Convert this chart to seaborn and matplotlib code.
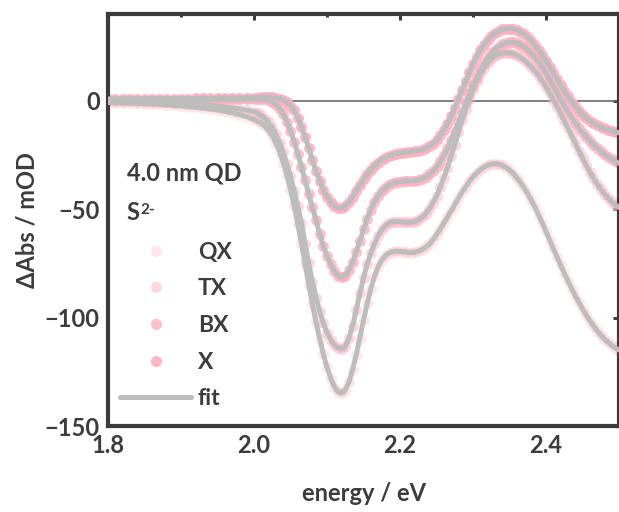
import numpy as np
import matplotlib
matplotlib.use("Agg")
import matplotlib.pyplot as plt
import seaborn as sns
from matplotlib.lines import Line2D
from matplotlib.ticker import MultipleLocator

# Probe energies (eV): 10 meV steps below 2.0 eV, 5 meV steps above
energy = np.concatenate([
    np.round(np.arange(1.80, 1.995, 0.01), 3),
    np.round(np.arange(2.000, 2.5001, 0.005), 3),
])

# Differential absorption (mOD) for the four spectra
qx = [
    -0.8, -0.9, -1.0, -1.1, -1.2, -1.3, -1.5, -1.7, -1.9, -2.1,
    -2.4, -2.7, -3.0, -3.4, -3.8, -4.3, -4.9, -5.6, -6.4, -7.4,
    -8.6, -9.4, -10.4, -11.8, -13.7, -16.2, -19.5, -23.5, -28.5, -34.3,
    -41.0, -48.6, -57.0, -66.0, -75.4, -84.8, -93.8, -102.2, -109.8, -116.8,
    -123.0, -128.0, -131.8, -134.2, -135.0, -133.4, -129.8, -124.2, -117.2, -109.3,
    -101.2, -93.5, -86.7, -81.0, -76.6, -73.5, -71.4, -70.2, -69.6, -69.4,
    -69.5, -69.7, -69.9, -70.0, -69.9, -69.4, -68.7, -67.6, -66.2, -64.2,
    -61.8, -59.2, -56.5, -53.7, -50.8, -47.9, -45.0, -42.2, -39.6, -37.2,
    -35.1, -33.3, -31.8, -30.6, -29.7, -29.2, -29.0, -29.2, -29.8, -30.7,
    -32.0, -33.6, -35.5, -37.7, -40.2, -43.0, -46.0, -49.2, -52.8, -56.5,
    -60.3, -64.2, -68.1, -72.0, -75.8, -79.5, -83.1, -86.6, -89.9, -93.0,
    -96.0, -98.8, -101.4, -103.8, -106.0, -108.0, -109.8, -111.4, -112.8, -114.0,
    -115.0,
]
tx = [
    -0.2, -0.2, -0.3, -0.3, -0.4, -0.5, -0.6, -0.7, -0.8, -1.0,
    -1.2, -1.4, -1.6, -1.9, -2.2, -2.5, -2.9, -3.3, -3.8, -4.4,
    -5.0, -5.8, -6.8, -8.2, -10.0, -12.4, -15.5, -19.3, -23.8, -29.0,
    -34.9, -41.4, -48.6, -56.3, -66.0, -75.0, -83.4, -90.8, -97.2, -102.6,
    -106.9, -110.2, -112.6, -114.0, -114.5, -113.2, -109.6, -103.8, -96.6, -88.8,
    -81.6, -75.4, -70.3, -66.0, -62.4, -59.6, -57.6, -56.4, -55.8, -55.7,
    -55.8, -56.0, -56.1, -56.1, -55.8, -55.0, -53.8, -52.2, -50.0, -47.0,
    -44.0, -40.0, -35.5, -30.8, -25.6, -20.2, -14.6, -9.0, -3.8, 1.0,
    5.4, 9.2, 12.5, 15.3, 17.5, 19.3, 20.6, 21.5, 22.0, 22.2,
    22.1, 21.7, 21.0, 20.0, 18.8, 17.3, 15.6, 13.6, 11.4, 9.0,
    6.3, 3.4, 0.4, -2.7, -5.9, -9.2, -12.6, -16.0, -19.5, -23.0,
    -26.4, -29.7, -32.8, -35.7, -38.4, -40.8, -43.0, -44.9, -46.6, -48.0,
    -49.2,
]
bx = [
    0.3, 0.3, 0.3, 0.3, 0.3, 0.3, 0.3, 0.4, 0.4, 0.4,
    0.4, 0.4, 0.5, 0.5, 0.5, 0.5, 0.6, 0.6, 0.6, 0.7,
    0.7, 0.8, 0.8, 0.7, 0.3, -0.5, -1.8, -3.6, -6.2, -9.6,
    -13.8, -18.8, -24.4, -30.4, -36.7, -43.0, -49.2, -55.0, -61.5, -67.0,
    -71.6, -75.4, -78.5, -80.6, -81.4, -80.6, -78.2, -74.5, -69.8, -64.6,
    -59.3, -54.4, -50.2, -46.7, -43.9, -41.7, -40.1, -38.9, -38.1, -37.6,
    -37.3, -37.1, -37.0, -36.9, -36.8, -36.5, -36.0, -35.2, -34.0, -32.4,
    -30.6, -28.0, -25.2, -22.0, -18.3, -14.2, -10.0, -5.6, -1.2, 3.0,
    7.0, 10.7, 14.0, 17.0, 19.6, 21.8, 23.6, 25.0, 26.0, 26.7,
    27.0, 26.9, 26.5, 25.8, 24.8, 23.5, 21.9, 20.0, 17.8, 15.3,
    12.6, 9.7, 6.7, 3.7, 0.7, -2.2, -5.0, -7.7, -10.2, -12.5,
    -14.7, -16.7, -18.5, -20.2, -21.8, -23.3, -24.7, -25.9, -27.0, -28.0,
    -28.9,
]
x1 = [
    0.8, 0.8, 0.9, 0.9, 0.9, 0.9, 1.0, 1.0, 1.0, 1.0,
    1.0, 1.0, 1.1, 1.1, 1.1, 1.2, 1.2, 1.2, 1.3, 1.3,
    1.4, 1.4, 1.5, 1.5, 1.6, 1.5, 1.3, 1.0, 0.4, -0.6,
    -2.2, -4.5, -7.8, -12.0, -16.8, -22.0, -27.3, -32.4, -37.0, -41.0,
    -44.3, -46.8, -48.5, -49.4, -49.5, -48.6, -46.8, -44.4, -41.6, -38.9,
    -36.3, -33.9, -31.8, -30.0, -28.5, -27.2, -26.2, -25.4, -24.8, -24.4,
    -24.1, -23.9, -23.7, -23.5, -23.3, -23.0, -22.6, -22.0, -21.1, -19.8,
    -18.0, -16.0, -13.5, -10.5, -7.0, -3.2, 0.8, 5.0, 9.2, 13.2,
    17.0, 20.3, 23.2, 25.8, 28.0, 29.8, 31.2, 32.2, 32.9, 33.2,
    33.3, 33.1, 32.6, 31.8, 30.7, 29.3, 27.6, 25.6, 23.4, 21.0,
    18.4, 15.7, 12.9, 10.1, 7.3, 4.6, 2.0, -0.4, -2.6, -4.6,
    -6.4, -7.9, -9.2, -10.3, -11.3, -12.1, -12.8, -13.4, -13.9, -14.4,
    -14.8,
]

series_names = ["QX", "TX", "BX", "X"]
series_values = [qx, tx, bx, x1]
series_alpha = [0.3, 0.5, 0.8, 0.9]

x_ticks = [1.8, 2.0, 2.2, 2.4]
y_ticks = [0, -50, -100, -150]

PINK = "#FFB0C0"
GRAY = "#BDBDBD"
INK = "#3c3c3c"

sns.set_theme(style="white")
plt.rcParams["font.family"] = ["Lato", "DejaVu Sans"]
plt.rcParams["font.weight"] = "bold"
plt.rcParams["axes.labelweight"] = "bold"

fig = plt.figure(figsize=(6.19, 5.12), dpi=100)
ax = fig.add_axes([108 / 619, 86 / 512, 511 / 619, 412 / 512])

ax.axhline(0, color="#6a6a6a", lw=1.2, zorder=1)

for vals, alpha in zip(series_values, series_alpha):
    sns.scatterplot(x=energy, y=vals, color=PINK, alpha=alpha, s=62,
                    linewidth=0, ax=ax, zorder=2, legend=False)
for vals in series_values:
    sns.lineplot(x=energy, y=vals, color=GRAY, lw=3.6, ax=ax, zorder=3,
                 legend=False, estimator=None, sort=False)

ax.set_xlim(1.8, 2.5)
ax.set_ylim(-150, 40)
ax.set_xticks(x_ticks)
ax.set_xticklabels([f"{t:.1f}" for t in x_ticks])
ax.xaxis.set_minor_locator(MultipleLocator(0.1))
ax.set_yticks(y_ticks)
ax.set_yticklabels([str(t).replace("-", "\u2212") for t in y_ticks])

ax.tick_params(which="both", direction="in", top=True, right=True,
               color=INK, width=2.2)
ax.tick_params(which="major", length=4.5, labelsize=17, labelcolor=INK, pad=6)
ax.tick_params(which="minor", length=2.5)
for side in ["left", "right", "top", "bottom"]:
    ax.spines[side].set_linewidth(3)
    ax.spines[side].set_color(INK)

ax.set_xlabel("energy / eV", fontsize=17, color=INK, labelpad=18)
ax.set_ylabel("\u0394Abs / mOD", fontsize=17, color=INK, labelpad=4)

ax.text(0.037, 0.614, "4.0 nm QD", transform=ax.transAxes, fontsize=17,
        color=INK, fontweight="bold", va="center", ha="left")
s_txt = ax.text(0.037, 0.517, "S", transform=ax.transAxes, fontsize=17,
                color=INK, fontweight="bold", va="center", ha="left")
ax.annotate("2-", xy=(1.0, 0.92), xycoords=s_txt, fontsize=11, color=INK,
            fontweight="bold", va="top", ha="left")

handles = [Line2D([], [], ls="", marker="o", markersize=8, markeredgewidth=0,
                  color=PINK, alpha=a) for a in series_alpha]
handles.append(Line2D([], [], color=GRAY, lw=3.6))
leg = ax.legend(handles, series_names + ["fit"], loc="upper left",
                bbox_to_anchor=(0.0235, 0.447), frameon=False,
                handlelength=3.1, handletextpad=0.3, labelspacing=0.68,
                borderpad=0, borderaxespad=0,
                prop={"size": 16.5, "weight": "bold"})
for t in leg.get_texts():
    t.set_color(INK)

fig.savefig("out.png", dpi=100)
